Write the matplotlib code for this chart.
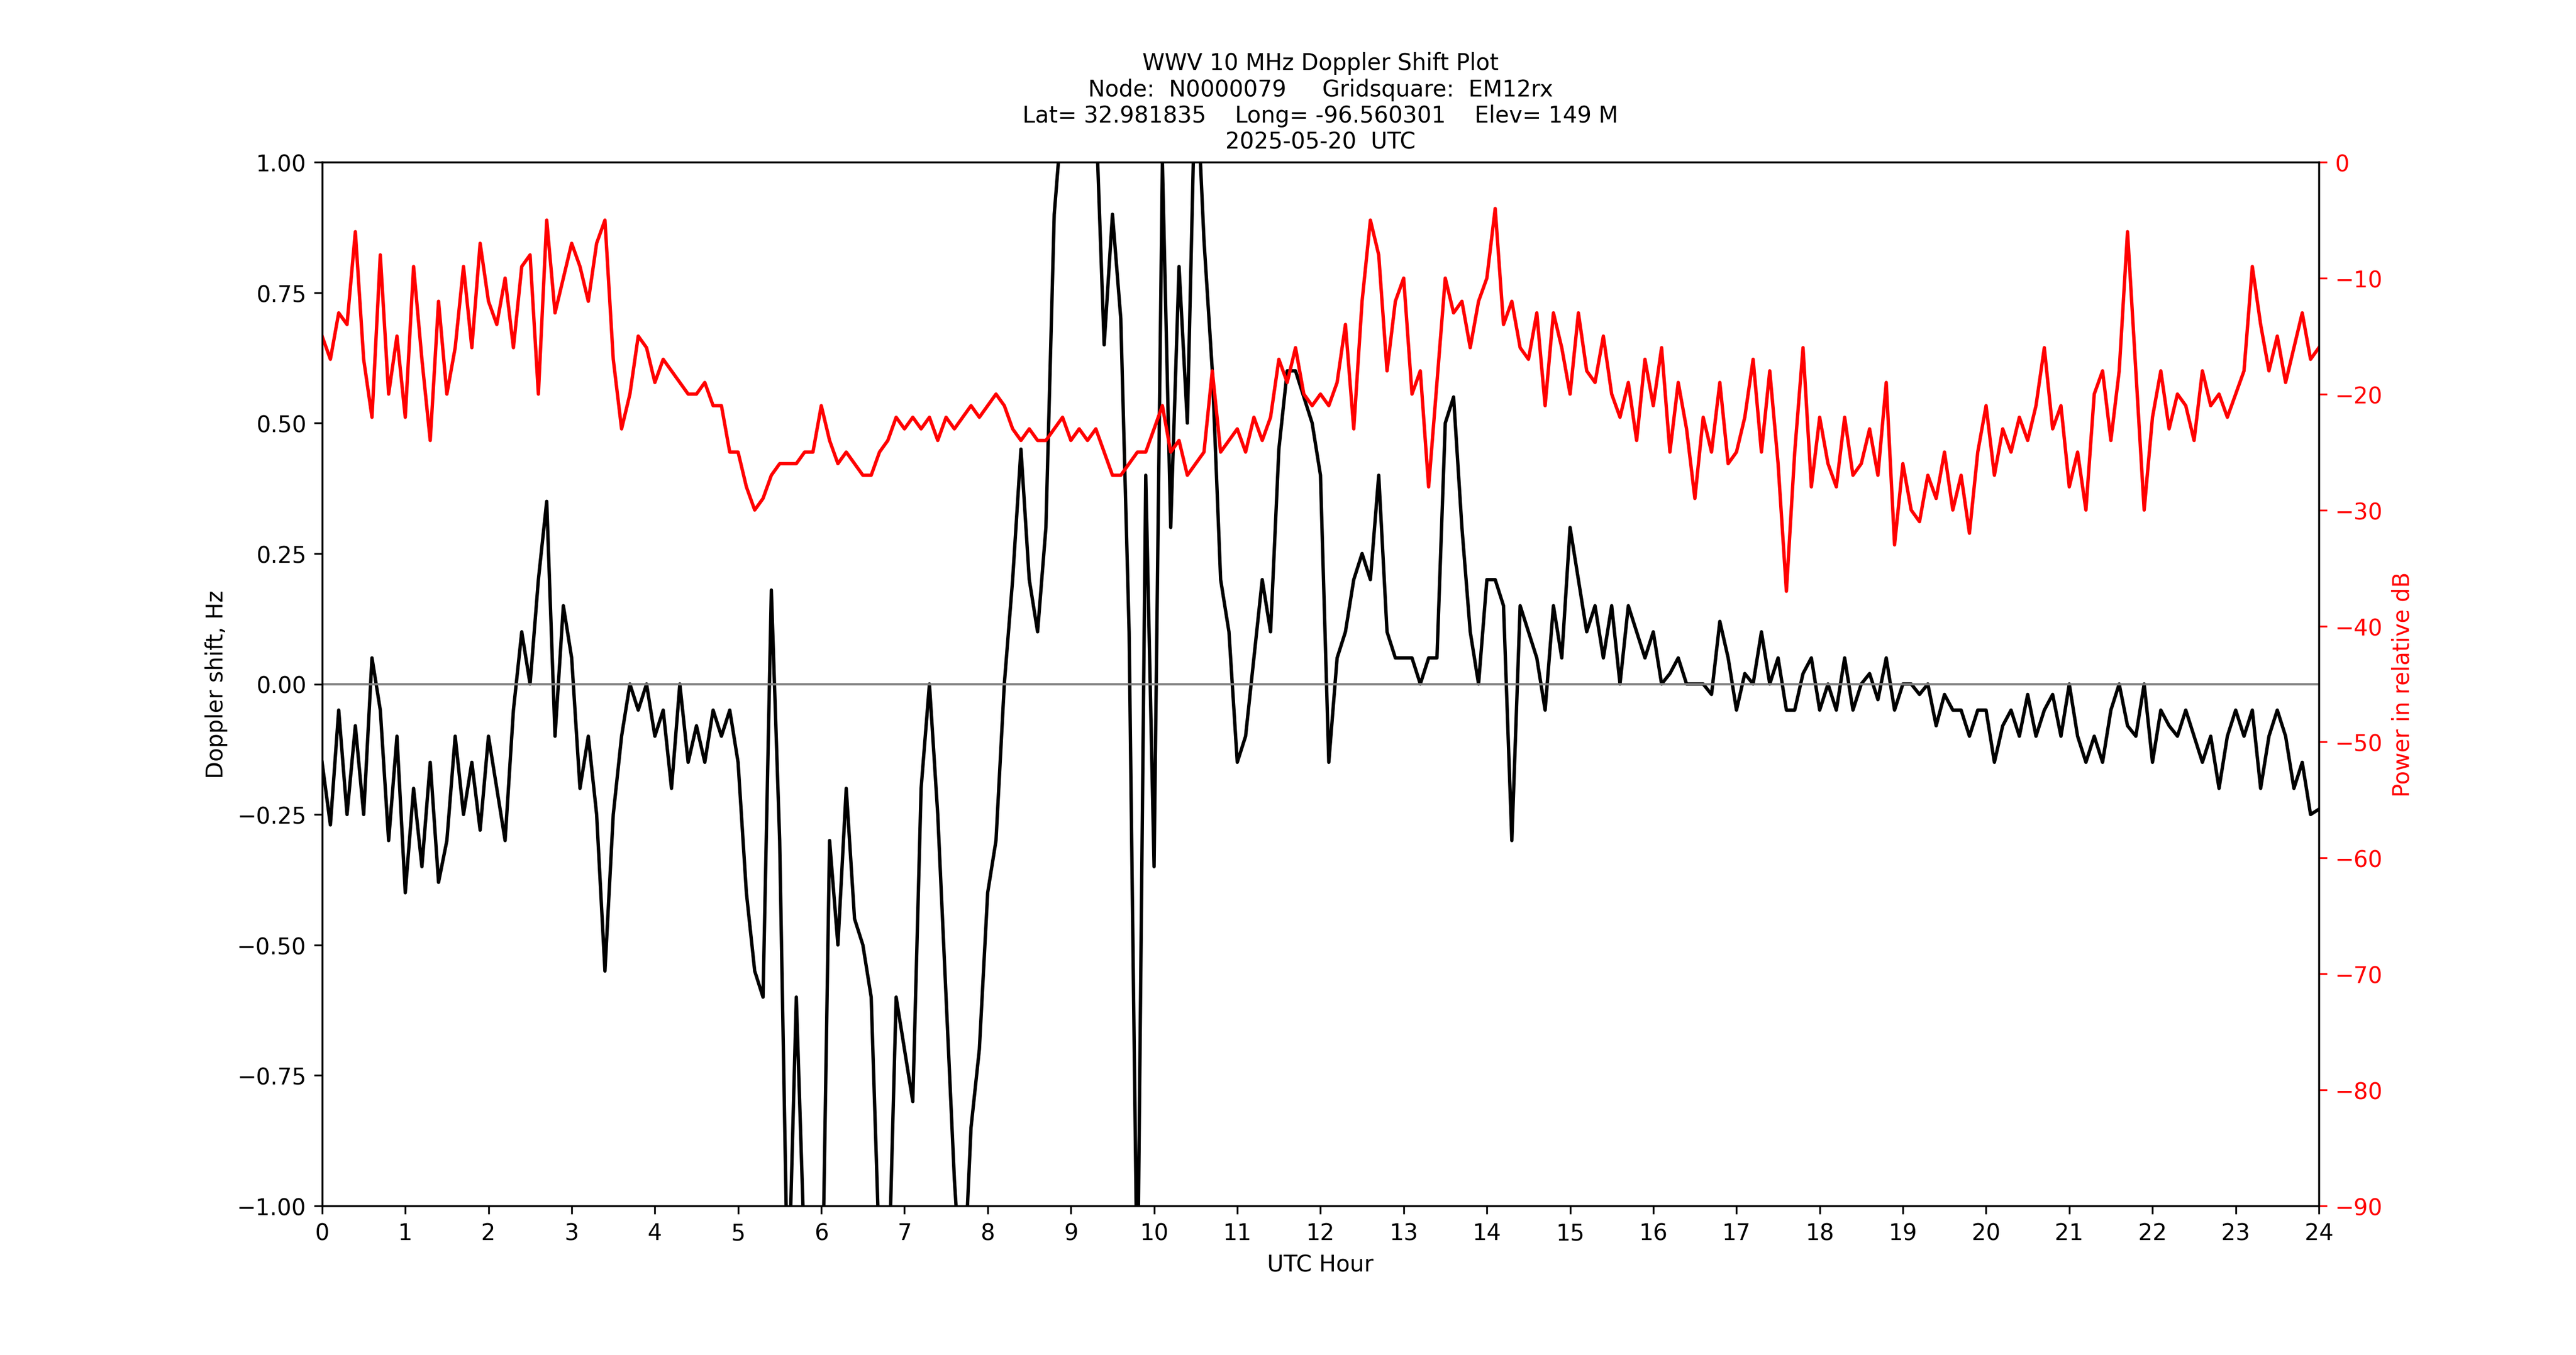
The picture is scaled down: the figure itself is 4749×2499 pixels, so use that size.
import numpy as np
import matplotlib
matplotlib.use("Agg")
import matplotlib.pyplot as plt

hours = [i / 10 for i in range(241)]
doppler = [-0.15,-0.27,-0.05,-0.25,-0.08,-0.25,0.05,-0.05,-0.3,-0.1,
-0.4,-0.2,-0.35,-0.15,-0.38,-0.3,-0.1,-0.25,-0.15,-0.28,
-0.1,-0.2,-0.3,-0.05,0.1,0.0,0.2,0.35,-0.1,0.15,
0.05,-0.2,-0.1,-0.25,-0.55,-0.25,-0.1,0.0,-0.05,0.0,
-0.1,-0.05,-0.2,0.0,-0.15,-0.08,-0.15,-0.05,-0.1,-0.05,
-0.15,-0.4,-0.55,-0.6,0.18,-0.3,-1.2,-0.6,-1.1,-1.2,
-1.3,-0.3,-0.5,-0.2,-0.45,-0.5,-0.6,-1.1,-1.2,-0.6,
-0.7,-0.8,-0.2,0.0,-0.25,-0.6,-0.95,-1.2,-0.85,-0.7,
-0.4,-0.3,0.0,0.2,0.45,0.2,0.1,0.3,0.9,1.1,
1.2,1.3,1.2,1.1,0.65,0.9,0.7,0.1,-1.2,0.4,
-0.35,1.0,0.3,0.8,0.5,1.2,0.85,0.6,0.2,0.1,
-0.15,-0.1,0.05,0.2,0.1,0.45,0.6,0.6,0.55,0.5,
0.4,-0.15,0.05,0.1,0.2,0.25,0.2,0.4,0.1,0.05,
0.05,0.05,0.0,0.05,0.05,0.5,0.55,0.3,0.1,0.0,
0.2,0.2,0.15,-0.3,0.15,0.1,0.05,-0.05,0.15,0.05,
0.3,0.2,0.1,0.15,0.05,0.15,0.0,0.15,0.1,0.05,
0.1,0.0,0.02,0.05,0.0,0.0,0.0,-0.02,0.12,0.05,
-0.05,0.02,0.0,0.1,0.0,0.05,-0.05,-0.05,0.02,0.05,
-0.05,0.0,-0.05,0.05,-0.05,0.0,0.02,-0.03,0.05,-0.05,
0.0,0.0,-0.02,0.0,-0.08,-0.02,-0.05,-0.05,-0.1,-0.05,
-0.05,-0.15,-0.08,-0.05,-0.1,-0.02,-0.1,-0.05,-0.02,-0.1,
0.0,-0.1,-0.15,-0.1,-0.15,-0.05,0.0,-0.08,-0.1,0.0,
-0.15,-0.05,-0.08,-0.1,-0.05,-0.1,-0.15,-0.1,-0.2,-0.1,
-0.05,-0.1,-0.05,-0.2,-0.1,-0.05,-0.1,-0.2,-0.15,-0.25,
-0.24]
power = [-15,-17,-13,-14,-6,-17,-22,-8,-20,-15,
-22,-9,-17,-24,-12,-20,-16,-9,-16,-7,
-12,-14,-10,-16,-9,-8,-20,-5,-13,-10,
-7,-9,-12,-7,-5,-17,-23,-20,-15,-16,
-19,-17,-18,-19,-20,-20,-19,-21,-21,-25,
-25,-28,-30,-29,-27,-26,-26,-26,-25,-25,
-21,-24,-26,-25,-26,-27,-27,-25,-24,-22,
-23,-22,-23,-22,-24,-22,-23,-22,-21,-22,
-21,-20,-21,-23,-24,-23,-24,-24,-23,-22,
-24,-23,-24,-23,-25,-27,-27,-26,-25,-25,
-23,-21,-25,-24,-27,-26,-25,-18,-25,-24,
-23,-25,-22,-24,-22,-17,-19,-16,-20,-21,
-20,-21,-19,-14,-23,-12,-5,-8,-18,-12,
-10,-20,-18,-28,-19,-10,-13,-12,-16,-12,
-10,-4,-14,-12,-16,-17,-13,-21,-13,-16,
-20,-13,-18,-19,-15,-20,-22,-19,-24,-17,
-21,-16,-25,-19,-23,-29,-22,-25,-19,-26,
-25,-22,-17,-25,-18,-26,-37,-25,-16,-28,
-22,-26,-28,-22,-27,-26,-23,-27,-19,-33,
-26,-30,-31,-27,-29,-25,-30,-27,-32,-25,
-21,-27,-23,-25,-22,-24,-21,-16,-23,-21,
-28,-25,-30,-20,-18,-24,-18,-6,-18,-30,
-22,-18,-23,-20,-21,-24,-18,-21,-20,-22,
-20,-18,-9,-14,-18,-15,-19,-16,-13,-17,
-16]
title = ("WWV 10 MHz Doppler Shift Plot\n"
         "Node:  N0000079     Gridsquare:  EM12rx\n"
         "Lat= 32.981835    Long= -96.560301    Elev= 149 M\n"
         "2025-05-20  UTC")

fig, ax = plt.subplots(figsize=(15.8333, 8.3333), dpi=300)
fig.subplots_adjust(left=0.125, right=0.9, top=0.88, bottom=0.11)
ax.plot(hours, doppler, color="black", lw=1.5)
ax.axhline(0, color="gray", lw=1)
ax.set_xlim(0, 24)
ax.set_ylim(-1, 1)
ax.set_xticks(range(25))
ax.set_yticks(np.arange(-1, 1.01, 0.25))
ax.set_xlabel("UTC Hour")
ax.set_ylabel("Doppler shift, Hz")
ax.set_title(title, fontsize=10)
ax2 = ax.twinx()
ax2.plot(hours, power, color="red", lw=1.5)
ax2.set_ylim(-90, 0)
ax2.set_yticks(range(-90, 1, 10))
ax2.set_ylabel("Power in relative dB", color="red")
ax2.tick_params(axis="y", colors="red")
fig.savefig("out.png")
